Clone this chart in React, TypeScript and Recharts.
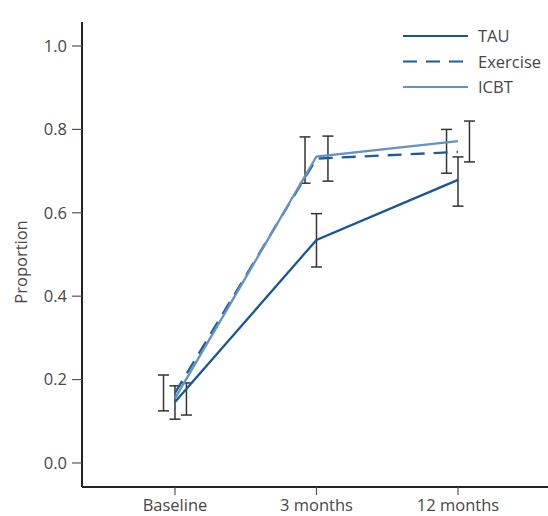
import { ComposedChart, Line, Scatter, ErrorBar, XAxis, YAxis } from "recharts";

const categories = ["Baseline", "3 months", "12 months"];

const tauMean = [0.146, 0.535, 0.679];
const tauLow = [0.105, 0.47, 0.616];
const tauHigh = [0.185, 0.598, 0.734];

const exerciseMean = [0.168, 0.73, 0.746];
const exerciseLow = [0.125, 0.671, 0.695];
const exerciseHigh = [0.211, 0.782, 0.8];

const icbtMean = [0.155, 0.735, 0.772];
const icbtLow = [0.115, 0.676, 0.722];
const icbtHigh = [0.192, 0.784, 0.82];

const yTicks = [0, 0.2, 0.4, 0.6, 0.8, 1.0];

const FONT = "'Open Sans', 'DejaVu Sans', sans-serif";
const TEXT = "#474747";
const FS = 16.5;

const series = [
  { name: "TAU", mean: tauMean, low: tauLow, high: tauHigh, color: "#17569a", dash: undefined, dodge: 0 },
  { name: "Exercise", mean: exerciseMean, low: exerciseLow, high: exerciseHigh, color: "#1c5c9c", dash: "14 9", dodge: -0.081 },
  { name: "ICBT", mean: icbtMean, low: icbtLow, high: icbtHigh, color: "#6592c6", dash: undefined, dodge: 0.081 },
];

const lineRows = (s: (typeof series)[number]) =>
  categories.map((_, i) => ({ x: i, y: s.mean[i] }));

const barRows = (s: (typeof series)[number]) =>
  categories.map((_, i) => ({
    x: i + s.dodge,
    y: (s.low[i] + s.high[i]) / 2,
    err: [(s.high[i] - s.low[i]) / 2, (s.high[i] - s.low[i]) / 2],
  }));

function LegendBox() {
  return (
    <svg
      width={148}
      height={80}
      style={{ position: "absolute", left: 400, top: 22, overflow: "visible" }}
    >
      {series.map((s, i) => {
        const y = 14 + i * 25.5;
        return (
          <g key={s.name}>
            <line x1={3} x2={68} y1={y} y2={y} stroke={s.color} strokeWidth={2.2} strokeDasharray={s.dash} />
            <text x={78} y={y + 6} fill={TEXT} fontSize={FS} fontFamily={FONT}>
              {s.name}
            </text>
          </g>
        );
      })}
    </svg>
  );
}

export default function App() {
  return (
    <div style={{ position: "absolute", left: 0, top: 0, width: 548, height: 516, background: "#fff" }}>
      <ComposedChart
        width={548}
        height={516}
        margin={{ top: 22, right: 0, bottom: 0, left: 0 }}
        style={{ fontFamily: FONT }}
      >
        <XAxis
          dataKey="x"
          type="number"
          domain={[-0.657, 2.636]}
          allowDataOverflow
          ticks={[0, 1, 2]}
          tickFormatter={(v: number) => categories[v]}
          height={29}
          axisLine={{ stroke: "#222", strokeWidth: 2 }}
          tickLine={{ stroke: "#555", strokeWidth: 1.2 }}
          tickSize={8}
          tickMargin={4}
          tick={{ fill: TEXT, fontSize: FS, fontFamily: FONT }}
        />
        <YAxis
          dataKey="y"
          type="number"
          domain={[-0.0576, 1.0576]}
          allowDataOverflow
          ticks={yTicks}
          tickFormatter={(v: number) => v.toFixed(1)}
          width={82}
          axisLine={{ stroke: "#222", strokeWidth: 2 }}
          tickLine={{ stroke: "#555", strokeWidth: 1.2 }}
          tickSize={10}
          tickMargin={5}
          tick={{ fill: TEXT, fontSize: FS, fontFamily: FONT }}
          label={{
            content: () => (
              <text
                x={23}
                y={262}
                transform="rotate(-90 23 262)"
                textAnchor="middle"
                dominantBaseline="middle"
                fill={TEXT}
                fontSize={FS}
                fontFamily={FONT}
              >
                Proportion
              </text>
            ),
          }}
        />
        {series.map((s) => (
          <Scatter
            key={s.name + "-ci"}
            name={s.name + " CI"}
            data={barRows(s)}
            dataKey="y"
            shape={() => <g />}
            legendType="none"
            isAnimationActive={false}
          >
            <ErrorBar
              dataKey="err"
              direction="y"
              width={5.5}
              stroke="#333"
              strokeWidth={1.5}
              isAnimationActive={false}
            />
          </Scatter>
        ))}
        {series.map((s) => (
          <Line
            key={s.name}
            name={s.name}
            data={lineRows(s)}
            dataKey="y"
            type="linear"
            stroke={s.color}
            strokeWidth={2.3}
            strokeDasharray={s.dash}
            dot={false}
            activeDot={false}
            isAnimationActive={false}
          />
        ))}
      </ComposedChart>
      <LegendBox />
    </div>
  );
}
